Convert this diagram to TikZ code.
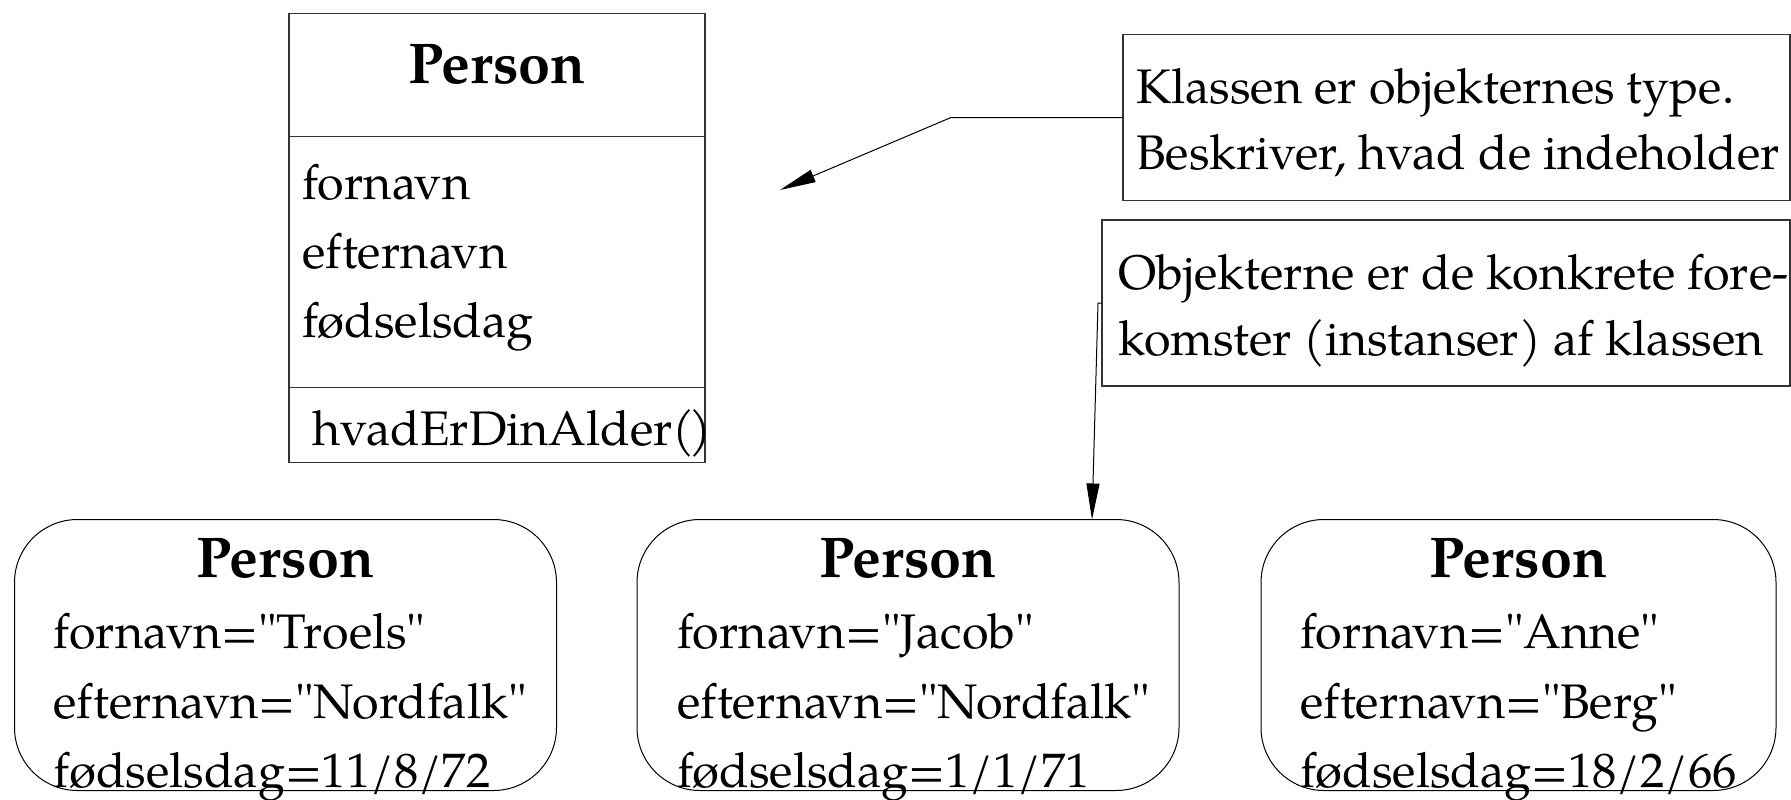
\documentclass[tikz,border=0pt]{standalone}
\usepackage{fontspec}
\setmainfont{TeX Gyre Pagella}[Ligatures=TeXOff]
\usetikzlibrary{arrows.meta}
\begin{document}
\begin{tikzpicture}[x=1pt,y=-1pt,
  boxline/.style={draw=black!80, line width=1.2pt},
  plainbox/.style={boxline, anchor=north west, inner sep=0pt, outer sep=0pt},
  objbox/.style={draw=black, line width=1pt, rounded corners=63pt, anchor=north west, inner sep=0pt, outer sep=0pt},
  txt/.style={anchor=base west, inner sep=0pt, font=\fontsize{48.5}{58}\selectfont},
  ttl/.style={anchor=base, inner sep=0pt, font=\fontsize{57.5}{68}\selectfont\bfseries},
  arr/.style={draw=black, line width=1pt, -{Triangle[length=36pt,width=13pt]}}
]
\useasboundingbox (0,0) rectangle (1791,800);
\clip (0,0) rectangle (1791,800);

% class box
\node[plainbox, minimum width=416pt, minimum height=449pt] (cls) at (289,13.5) {};
\draw[boxline] (289,136.7) -- (705,136.7);
\draw[boxline] (289,387.7) -- (705,387.7);
\node[ttl] (clsname) at (497,83) {Person};
\node[txt] (a1) at (302,199) {fornavn};
\node[txt] (a2) at (302,268) {efternavn};
\node[txt] (a3) at (302,337) {fødselsdag};
\node[txt] (m1) at (312,445) {hvadErDinAlder(\kern-5pt)};

% notes
\node[plainbox, minimum width=667pt, minimum height=166pt] (note1) at (1123,34.5) {};
\node[txt] (n1a) at (1136,103) {Klassen er objekternes type.};
\node[txt] (n1b) at (1136,169.5) {Beskriver, hvad de indeholder};

\node[plainbox, minimum width=688pt, minimum height=166pt] (note2) at (1102,220) {};
\node[txt] (n2a) at (1118,289.5) {Objekterne er de konkrete fore-};
\node[txt] (n2b) at (1118,355) {komster (instanser) af klassen};

% object boxes
\node[objbox, minimum width=542pt, minimum height=271pt] (o1) at (14.5,519.5) {};
\node[objbox, minimum width=542pt, minimum height=271pt] (o2) at (637,519.5) {};
\node[objbox, minimum width=515pt, minimum height=271pt] (o3) at (1261,519.5) {};

\node[ttl] (t1) at (285.5,577) {Person};
\node[txt] (f1) at (53.5,648) {fornavn="Troels"};
\node[txt] (e1) at (53.5,718) {efternavn="Nordfalk"};
\node[txt] (d1) at (53.5,787) {fødselsdag=11/8/72};

\node[ttl] (t2) at (908,577) {Person};
\node[txt] (f2) at (677,648) {fornavn="Jacob"};
\node[txt] (e2) at (677,718) {efternavn="Nordfalk"};
\node[txt] (d2) at (677,787) {fødselsdag=1/1/71};

\node[ttl] (t3) at (1518.5,577) {Person};
\node[txt] (f3) at (1300,648) {fornavn="Anne"};
\node[txt] (e3) at (1300,718) {efternavn="Berg"};
\node[txt] (d3) at (1300,787) {fødselsdag=18/2/66};

% connectors
\coordinate (tip1) at (780,190);
\draw[arr] (note1.west) -- ++(-172,0) -- (tip1);
\coordinate (tip2) at (1092,519.5);
\draw[arr] (note2.west) -- ++(-4,0) -- (tip2);
\end{tikzpicture}
\end{document}
